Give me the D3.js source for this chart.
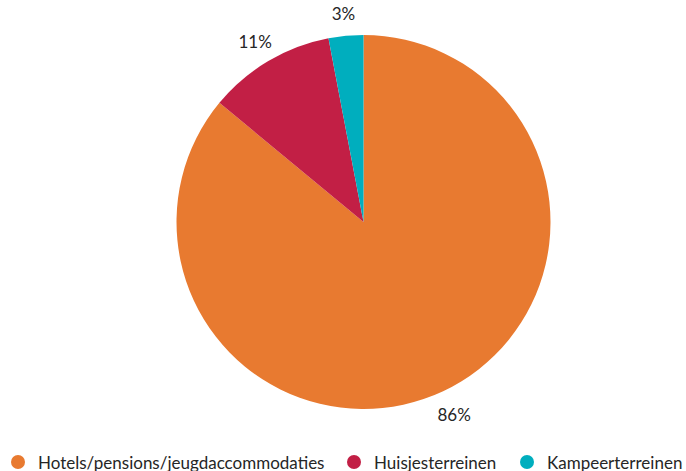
<!DOCTYPE html>
<html>
<head>
<meta charset="utf-8">
<script src="https://cdn.jsdelivr.net/npm/d3@7"></script>
<style>
  body { margin: 0; background: #fff; }
  text { font-family: Lato, "Open Sans", sans-serif; fill: #262626; }
</style>
</head>
<body>
<div id="chart"></div>
<script>
var categories = ["Hotels/pensions/jeugdaccommodaties", "Huisjesterreinen", "Kampeerterreinen"];
var values = [86, 11, 3];
var colors = ["#E87A30", "#C21F45", "#00AEBE"];

var width = 686, height = 471;
var cx = 363.5, cy = 222, radius = 187;

var svg = d3.select("#chart")
  .append("svg")
    .attr("width", width)
    .attr("height", height);

var data = categories.map(function(c, i) { return {name: c, value: values[i], color: colors[i]}; });

var pie = d3.pie()
  .sort(null)
  .value(function(d) { return d.value; });

var arc = d3.arc()
  .innerRadius(0)
  .outerRadius(radius);

var g = svg.append("g")
  .attr("transform", "translate(" + cx + "," + cy + ")");

var arcs = pie(data);

g.selectAll("path")
  .data(arcs)
  .enter().append("path")
    .attr("d", arc)
    .attr("fill", function(d) { return d.data.color; });

// percentage labels just outside each slice
g.selectAll("text.label")
  .data(arcs)
  .enter().append("text")
    .attr("class", "label")
    .attr("font-size", "17px")
    .attr("text-anchor", "middle")
    .attr("dominant-baseline", "central")
    .attr("x", function(d) {
      var a = (d.startAngle + d.endAngle) / 2;
      return Math.sin(a) * (radius + 20) + Math.sin(a) * 6;
    })
    .attr("y", function(d) {
      var a = (d.startAngle + d.endAngle) / 2;
      return -Math.cos(a) * (radius + 20) + (Math.cos(a) < 0 ? 5 : -2);
    })
    .text(function(d) { return d.data.value + "%"; });

// legend
var legendX = [18, 354, 527];
var legend = svg.selectAll("g.legend")
  .data(data)
  .enter().append("g")
    .attr("class", "legend")
    .attr("transform", function(d, i) { return "translate(" + legendX[i] + ",462)"; });

legend.append("circle")
  .attr("r", 7)
  .attr("fill", function(d) { return d.color; });

legend.append("text")
  .attr("x", 20)
  .attr("dominant-baseline", "central")
  .attr("font-size", "17px")
  .text(function(d) { return d.name; });
</script>
</body>
</html>
